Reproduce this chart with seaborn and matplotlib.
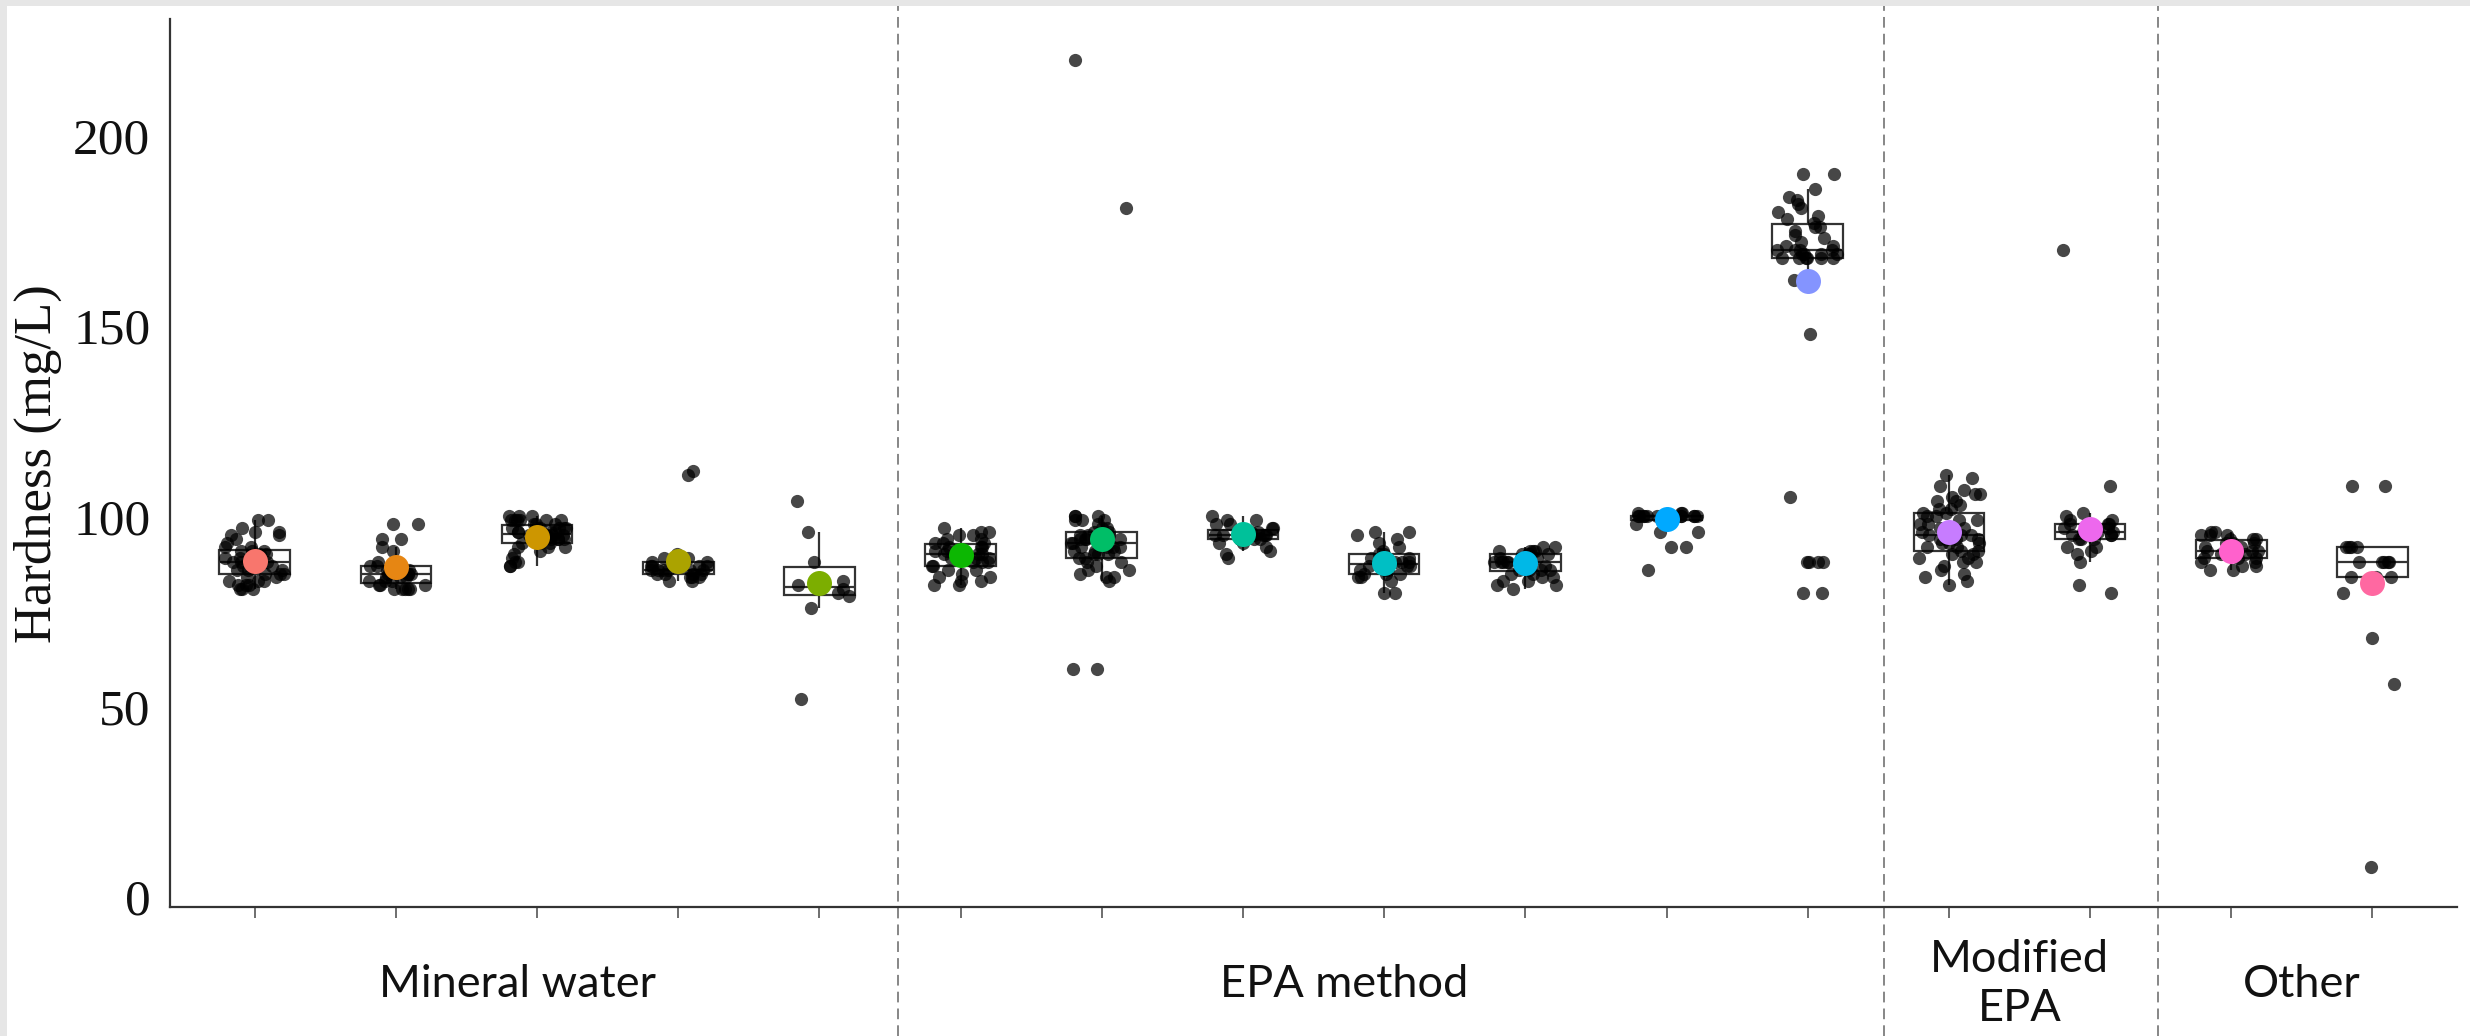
import numpy as np
import pandas as pd
import matplotlib
matplotlib.use('Agg')
import matplotlib.pyplot as plt
import matplotlib.transforms as mtransforms
from matplotlib.patches import Rectangle
import seaborn as sns

# categorias (16 muestras) agrupadas por metodo
samples = ['MW1', 'MW2', 'MW3', 'MW4', 'MW5',
           'EPA1', 'EPA2', 'EPA3', 'EPA4', 'EPA5', 'EPA6', 'EPA7',
           'MEPA1', 'MEPA2', 'OT1', 'OT2']
groups = ['Mineral water', 'EPA method', 'Modified\nEPA', 'Other']

# valores de dureza (mg/L)
mw1 = [99, 99, 97, 96, 96, 95, 95, 94, 93, 92, 92, 91, 91, 91, 90, 90, 89, 89, 89, 88, 88, 88,
       88, 88, 87, 87, 87, 86, 86, 86, 85, 85, 85, 84, 84, 83, 83, 83, 82, 82, 82, 81, 81, 81]
mw2 = [98, 98, 94, 94, 92, 91, 88, 87, 87, 87, 86, 86, 86, 85, 85, 85, 85, 84, 84, 84, 83, 83,
       83, 82, 82, 82, 81, 81, 81, 81, 81]
mw3 = [87, 87, 88, 88, 89, 90, 91, 92, 92, 92, 93, 93, 93, 94, 94, 94, 94, 94, 95, 95, 95, 95,
       95, 96, 96, 96, 96, 96, 97, 97, 97, 97, 97, 97, 98, 98, 98, 99, 99, 99, 99, 99, 99, 100, 100, 100]
mw4 = [112, 111, 90, 89, 89, 88, 88, 88, 87, 87, 87, 87, 87, 86, 86, 86, 86, 86, 86, 85, 85, 85,
       85, 84, 84, 84, 83, 83]
mw5 = [104, 96, 88, 83, 82, 81, 80, 79, 76, 52]
epa1 = [97, 96, 96, 95, 95, 94, 94, 93, 93, 93, 92, 92, 92, 91, 91, 91, 91, 90, 90, 90, 90, 89,
        89, 89, 88, 88, 88, 87, 87, 86, 86, 85, 84, 84, 83, 83, 82, 82]
epa2 = [220, 181, 100, 100, 100, 99, 99, 99, 98, 97, 97, 96, 96, 95, 95, 95, 94, 94, 94, 94, 93,
        93, 93, 93, 92, 92, 92, 92, 91, 91, 91, 90, 90, 90, 89, 89, 88, 88, 87, 86, 86, 85, 84, 84,
        83, 60, 60]
epa3 = [100, 99, 99, 98, 98, 97, 97, 96, 96, 96, 96, 95, 95, 95, 95, 95, 95, 94, 94, 94, 94, 93,
        93, 92, 91, 90, 89]
epa4 = [96, 96, 95, 94, 93, 92, 91, 90, 90, 89, 89, 88, 88, 88, 87, 87, 87, 86, 86, 86, 85, 85,
        85, 84, 84, 83, 80, 80]
epa5 = [92, 92, 91, 91, 91, 91, 90, 90, 90, 90, 89, 89, 89, 89, 88, 88, 88, 88, 88, 87, 87, 87,
        87, 86, 86, 86, 86, 85, 85, 84, 84, 83, 83, 82, 82, 81]
epa6 = [101, 101, 101, 100, 100, 100, 100, 100, 100, 100, 100, 100, 100, 100, 100, 100, 100, 100,
        100, 100, 99, 99, 98, 96, 96, 92, 92, 86]
epa7 = [190, 190, 186, 184, 183, 182, 181, 180, 179, 178, 177, 176, 176, 175, 174, 173, 172, 171,
        171, 170, 170, 170, 170, 169, 169, 169, 169, 168, 168, 168, 168, 168, 168, 162, 148, 105,
        88, 88, 88, 88, 80, 80]
mepa1 = [111, 110, 108, 107, 106, 106, 105, 104, 104, 103, 102, 102, 101, 101, 100, 100, 99, 99,
         98, 98, 97, 97, 96, 96, 95, 95, 95, 95, 94, 94, 94, 94, 93, 93, 93, 92, 92, 91, 91, 90, 90,
         89, 89, 88, 88, 87, 86, 85, 84, 83, 82]
mepa2 = [170, 108, 101, 100, 99, 99, 98, 98, 98, 97, 97, 97, 96, 96, 96, 96, 95, 95, 95, 94, 94,
         94, 92, 92, 91, 90, 88, 82, 80]
ot1 = [96, 96, 95, 95, 95, 94, 94, 94, 93, 93, 93, 92, 92, 92, 91, 91, 91, 91, 90, 90, 90, 89,
       89, 89, 88, 88, 87, 87, 86, 86]
ot2 = [108, 108, 92, 92, 92, 92, 88, 88, 88, 88, 88, 84, 84, 84, 80, 68, 56, 8]

# media de cada muestra (punto de color)
means = [88.2, 86.6, 94.7, 88.2, 82.4, 89.8, 94.0, 95.3, 87.7, 87.7, 99.3, 161.7, 96.0, 96.8, 91.0, 82.4]

all_values = [mw1, mw2, mw3, mw4, mw5, epa1, epa2, epa3, epa4, epa5, epa6, epa7, mepa1, mepa2, ot1, ot2]
df = pd.DataFrame({'muestra': np.repeat(samples, [len(v) for v in all_values]),
                   'dureza': np.concatenate(all_values)})
df_mean = pd.DataFrame({'muestra': samples, 'media': means})

colores = ['#F8766D', '#E68613', '#CD9600', '#ABA300', '#7CAE00', '#0CB702', '#00BE67', '#00C19A',
           '#00BFC4', '#00B8E7', '#00A9FF', '#8494FF', '#C77CFF', '#ED68ED', '#FF61CC', '#FF68A1']

sns.set_theme(style='white')
plt.rcParams['font.family'] = ['Liberation Serif', 'DejaVu Serif']

fig = plt.figure(figsize=(24.7, 10.36), dpi=100)
fig.patch.set_facecolor('#e6e6e6')
fig.patches.append(Rectangle((7 / 2470, 0), 1, 1 - 6 / 1036, transform=fig.transFigure,
                             facecolor='white', edgecolor='none', zorder=-5))
ax = fig.add_axes([0.0688, 0.1245, 0.926, 0.857])

sns.boxplot(data=df, x='muestra', y='dureza', order=samples, width=0.5, color='white',
            linecolor='#333333', linewidth=1.6, showfliers=False, showcaps=False, ax=ax)
np.random.seed(3)
sns.stripplot(data=df, x='muestra', y='dureza', order=samples, color='black', alpha=0.72,
              size=9.5, jitter=0.22, zorder=3, ax=ax)
sns.stripplot(data=df_mean, x='muestra', y='media', order=samples, hue='muestra',
              hue_order=samples, palette=colores, jitter=False, size=18, legend=False,
              zorder=4, ax=ax)

ax.set_xlim(-0.6, 15.6)
ax.set_ylim(-2.6, 230.6)
ax.set_yticks([0, 50, 100, 150, 200])
ax.set_xlabel('')
ax.set_ylabel('Hardness (mg/L)', fontsize=38, color='#111111', labelpad=8)
ax.tick_params(axis='y', labelsize=37, length=8, width=1.2, color='#333333', labelcolor='#111111', pad=6)
ax.tick_params(axis='x', labelbottom=False, length=8, width=1.2, color='#555555', bottom=True)
sns.despine(ax=ax)
for s in ['left', 'bottom']:
    ax.spines[s].set_color('#333333')
    ax.spines[s].set_linewidth(1.6)

# lineas de separacion y nombres de grupos
trans = mtransforms.blended_transform_factory(ax.transData, fig.transFigure)
for xs in [4.56, 11.54, 13.48]:
    ax.plot([xs, xs], [0, 1 - 6 / 1036], transform=trans, color='#666666', lw=1.1,
            linestyle=(0, (7, 4)), clip_on=False, zorder=1)
for xg, g in zip([1.86, 7.72, 12.5, 14.5], groups):
    ax.text(xg, 0.05, g, transform=trans, ha='center', va='center', fontsize=32.5,
            family=['Lato', 'DejaVu Sans'], color='#111111', linespacing=1.25)

fig.savefig('out.png', dpi=100, facecolor=fig.get_facecolor())
